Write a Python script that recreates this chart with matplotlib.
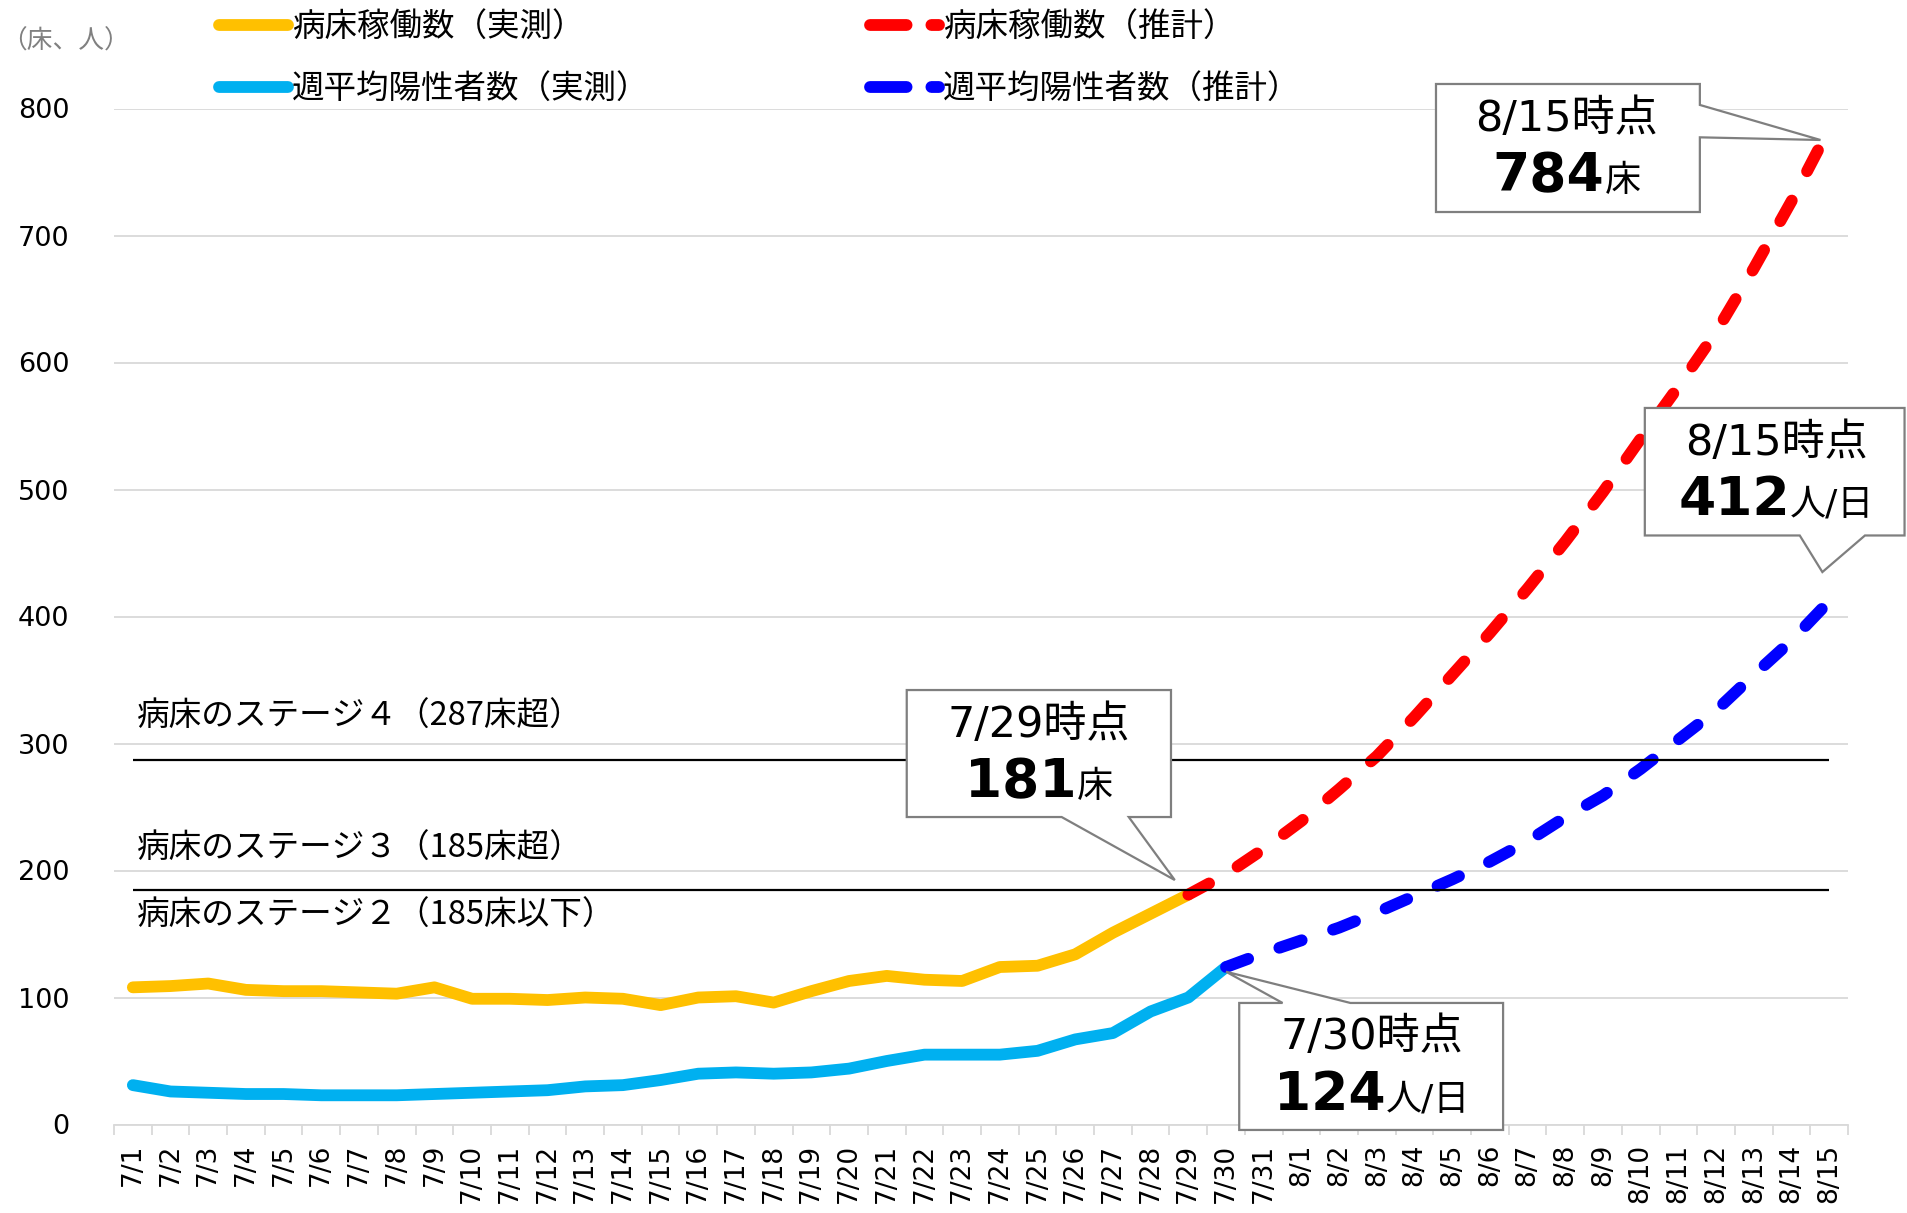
import numpy as np
import matplotlib
matplotlib.use("Agg")
import matplotlib.pyplot as plt
from matplotlib.patches import Polygon
from matplotlib.lines import Line2D
from matplotlib.offsetbox import TextArea, HPacker, AnnotationBbox

# ---- data ----
dates = [f"7/{d}" for d in range(1, 32)] + [f"8/{d}" for d in range(1, 16)]

# 病床稼働数（実測） 7/1 - 7/29
bed_actual = [108, 109, 111, 106, 105, 105, 104, 103, 108,
              99, 99, 98, 100, 99, 94, 100, 101, 96, 105,
              113, 117, 114, 113, 124, 125, 134, 151, 166, 181]
# 病床稼働数（推計） 7/29 - 8/15
bed_forecast = [181, 197, 217, 239, 264, 290, 321, 354, 387,
                422, 459, 498, 540, 581, 624, 674, 727, 784]
# 週平均陽性者数（実測） 7/1 - 7/30
pos_actual = [31, 26, 25, 24, 24, 23, 23, 23, 24,
              25, 26, 27, 30, 31, 35, 40, 41, 40, 41,
              44, 50, 55, 55, 55, 58, 67, 72, 89, 100, 124]
# 週平均陽性者数（推計） 7/30 - 8/15
pos_forecast = [124, 135, 145, 155, 167, 180, 193, 207, 223,
                242, 259, 280, 303, 326, 354, 381, 412]

stage_values = [287, 185]
stage_labels = ["病床のステージ４（287床超）", "病床のステージ３（185床超）", "病床のステージ２（185床以下）"]
stage_label_y = [321, 217, 164]

legend_labels = ["病床稼働数（実測）", "週平均陽性者数（実測）", "病床稼働数（推計）", "週平均陽性者数（推計）"]

YELLOW = "#FFC000"
LIGHTBLUE = "#00B0F0"
RED = "#FF0000"
BLUE = "#0000FF"
GRID = "#D9D9D9"
BOXEDGE = "#7F7F7F"

CJK = ["Noto Sans CJK JP", "DejaVu Sans"]
MIXED = ["DejaVu Sans", "Noto Sans CJK JP"]
plt.rcParams["font.family"] = MIXED

W, H = 1907, 1213
fig = plt.figure(figsize=(W / 100, H / 100), dpi=100)
ax = fig.add_axes([114 / W, 88.5 / H, 1734 / W, 1016 / H])

x = np.arange(len(dates))
n_bed = len(bed_actual)
n_pos = len(pos_actual)
LW = 8.5

ax.plot(x[:n_bed], bed_actual, color=YELLOW, lw=LW, solid_capstyle="round",
        solid_joinstyle="round", zorder=3)
ax.plot(x[:n_pos], pos_actual, color=LIGHTBLUE, lw=LW, solid_capstyle="round",
        solid_joinstyle="round", zorder=3)
ax.plot(x[n_bed - 1:], bed_forecast, color=RED, lw=LW, dashes=(2.0, 2.8),
        dash_capstyle="round", zorder=3.5)
ax.plot(x[n_pos - 1:], pos_forecast, color=BLUE, lw=LW, dashes=(2.0, 2.8),
        dash_capstyle="round", zorder=3.5)

# stage threshold lines
ax.hlines(stage_values, x[0], x[-1], color="black", lw=1.6, zorder=4)
for lab, yv in zip(stage_labels, stage_label_y):
    ax.text(0.12, yv, lab, ha="left", va="center", fontsize=23.5, family=CJK, zorder=4)

# axes styling
ax.set_xlim(-0.5, len(dates) - 0.5)
ax.set_ylim(0, 800)
ax.set_yticks(range(0, 801, 100))
ax.grid(axis="y", color=GRID, lw=1.3)
ax.set_axisbelow(True)
ax.set_xticks(x)
ax.set_xticklabels(dates, rotation=90)
ax.set_xticks(np.arange(-0.5, len(dates), 1), minor=True)
ax.tick_params(axis="x", which="major", length=0, pad=14, labelsize=19)
ax.tick_params(axis="x", which="minor", length=7.2, width=1.3, color=GRID)
ax.tick_params(axis="y", length=0, pad=32, labelsize=19.5)
for s in ["top", "right", "left"]:
    ax.spines[s].set_visible(False)
ax.spines["bottom"].set_color(GRID)
ax.spines["bottom"].set_linewidth(1.3)

fig.text(1 / W, 1 - 42 / H, "（床、人）", color="#808080", fontsize=18.5,
         va="center", ha="left", family=CJK)

# legend
handles = [
    Line2D([], [], color=YELLOW, lw=LW, solid_capstyle="round"),
    Line2D([], [], color=LIGHTBLUE, lw=LW, solid_capstyle="round"),
    Line2D([], [], color=RED, lw=LW, dashes=(3.1, 2.1), dash_capstyle="round"),
    Line2D([], [], color=BLUE, lw=LW, dashes=(3.1, 2.1), dash_capstyle="round"),
]
fig.legend(handles, legend_labels, loc="upper left", bbox_to_anchor=(219 / W, 1 - 11 / H),
           ncol=2, frameon=False, borderpad=0, borderaxespad=0, handlelength=2.12,
           handletextpad=0.12, columnspacing=6.8, labelspacing=0.92,
           prop={"family": CJK, "size": 23.4})


# callouts
def callout(box, wedge, tip, side):
    x0, x1, y0, y1 = box
    a, b = wedge
    if side == "bottom":
        verts = [(x0, y1), (x1, y1), (x1, y0), (b, y0), tip, (a, y0), (x0, y0)]
    elif side == "top":
        verts = [(x0, y0), (x0, y1), (a, y1), tip, (b, y1), (x1, y1), (x1, y0)]
    else:
        verts = [(x0, y0), (x0, y1), (x1, y1), (x1, a), tip, (x1, b), (x1, y0)]
    ax.add_patch(Polygon(verts, closed=True, fc="white", ec=BOXEDGE, lw=1.6,
                         zorder=5, clip_on=False))


def box_text(cx, y_head, y_num, head, num, unit):
    ax.text(cx, y_head, head, ha="center", va="center", fontsize=31,
            family=MIXED, zorder=6, clip_on=False)
    pack = HPacker(children=[
        TextArea(num, textprops=dict(fontsize=38.5, fontweight="bold", family=MIXED)),
        TextArea(unit, textprops=dict(fontsize=26, family=MIXED)),
    ], align="baseline", pad=0, sep=0)
    ab = AnnotationBbox(pack, (cx, y_num), frameon=False, box_alignment=(0.5, 0.5),
                        pad=0, zorder=6, annotation_clip=False)
    ax.add_artist(ab)


callout((20.53, 27.54, 242.1, 342.1), (24.64, 26.42), (27.64, 192.5), "bottom")
box_text(24.04, 314.6, 269.7, "7/29時点", "181", "床")

callout((29.35, 36.35, -4.3, 95.7), (30.5, 32.3), (29.0, 120.3), "top")
box_text(32.87, 68.6, 23.5, "7/30時点", "124", "人/日")

callout((34.57, 41.57, 718.5, 819.3), (802.8, 777.3), (44.77, 775.2), "right")
box_text(38.04, 791.7, 746.6, "8/15時点", "784", "床")

callout((40.11, 47.0, 463.8, 564.2), (44.22, 45.95), (44.82, 435), "bottom")
box_text(43.6, 536.9, 491.9, "8/15時点", "412", "人/日")

fig.savefig("out.png", dpi=100)
